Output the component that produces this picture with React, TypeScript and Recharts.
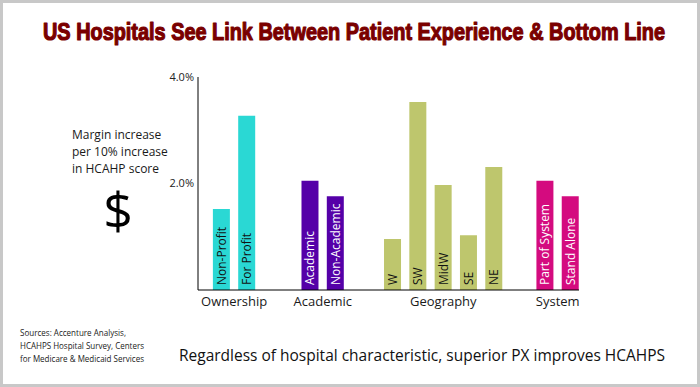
import React from 'react';
import { BarChart, Bar, XAxis, YAxis, Cell, LabelList } from 'recharts';

const groupNames = ['Ownership', 'Academic', 'Geography', 'System'];
const ownershipLabels = ['Non-Profit', 'For Profit'];
const ownershipValues = [1.52, 3.27];
const academicLabels = ['Academic', 'Non-Academic'];
const academicValues = [2.05, 1.76];
const geographyLabels = ['W', 'SW', 'MidW', 'SE', 'NE'];
const geographyValues = [0.96, 3.53, 1.97, 1.03, 2.31];
const systemLabels = ['Part of System', 'Stand Alone'];
const systemValues = [2.05, 1.76];
const yTicks = [2, 4];

const groupColors = ['#2ad8d4', '#5500a8', '#bec66d', '#d40b7f'];
const labelColors = ['#111111', '#ffffff', '#111111', '#ffffff'];
// extra room (in bar steps) in front of each group
const groupGaps = [0, 1.5, 1.26, 1.02];

const groups = [
  { labels: ownershipLabels, values: ownershipValues },
  { labels: academicLabels, values: academicValues },
  { labels: geographyLabels, values: geographyValues },
  { labels: systemLabels, values: systemValues },
];

type Row = { name: string; value: number; pos: number; group: number };
const rows: Row[] = [];
const groupCenters: number[] = [];
let cursor = 0;
groups.forEach((g, gi) => {
  cursor += groupGaps[gi];
  const start = cursor;
  g.labels.forEach((name, i) => {
    rows.push({ name, value: g.values[i], pos: cursor, group: gi });
    cursor += 1;
  });
  groupCenters.push((start + cursor - 1) / 2);
});
const lastPos = rows[rows.length - 1].pos;

const BarText = (props: any) => {
  const { x, y, width, height, value } = props;
  const row = rows.find((r) => r.name === value);
  const cx = Number(x) + Number(width) / 2;
  const by = Number(y) + Number(height) - 5;
  return (
    <text
      x={cx}
      y={by}
      transform={`rotate(-90 ${cx} ${by})`}
      textAnchor="start"
      dominantBaseline="central"
      fontSize={12}
      fill={row ? labelColors[row.group] : '#111'}
    >
      {value}
    </text>
  );
};

export default function App() {
  return (
    <div
      style={{
        position: 'absolute',
        left: 0,
        top: 0,
        width: 700,
        height: 387,
        background: '#fff',
        fontFamily: "'Open Sans', sans-serif",
      }}
    >
      <BarChart
        width={700}
        height={387}
        data={rows}
        margin={{ top: 77, right: 121, left: 158, bottom: 67 }}
      >
        <XAxis
          type="number"
          dataKey="pos"
          domain={[-0.93, lastPos + 0.34]}
          ticks={groupCenters}
          interval={0}
          tickFormatter={(v) => groupNames[groupCenters.indexOf(v)] ?? ''}
          tickLine={false}
          tickSize={0}
          tickMargin={7}
          height={30}
          axisLine={{ stroke: '#000' }}
          tick={{ fontSize: 13, fill: '#1a1a1a' }}
        />
        <YAxis
          type="number"
          domain={[0, 4]}
          ticks={yTicks}
          tickFormatter={(v) => `${Number(v).toFixed(1)}%`}
          tickLine={false}
          tickSize={0}
          tickMargin={4}
          width={40}
          axisLine={{ stroke: '#000' }}
          tick={{ fontSize: 11, fill: '#222' }}
        />
        <Bar dataKey="value" barSize={17} isAnimationActive={false}>
          {rows.map((r, i) => (
            <Cell key={`cell-${i}`} fill={groupColors[r.group]} />
          ))}
          <LabelList dataKey="name" content={BarText} />
        </Bar>
      </BarChart>

      <svg
        width={700}
        height={387}
        style={{ position: 'absolute', left: 0, top: 0, pointerEvents: 'none' }}
      >
        <rect x={1.5} y={1.5} width={697} height={384} fill="none" stroke="#c8c8c8" strokeWidth={3} />
        <text
          x={43}
          y={40}
          fontFamily="'Liberation Sans Narrow', 'Liberation Sans', sans-serif"
          fontWeight="bold"
          fontSize={24}
          fill="#7a0000"
          stroke="#7a0000"
          strokeWidth={1.2}
          strokeLinejoin="round"
          textLength={622}
          lengthAdjust="spacingAndGlyphs"
        >
          US Hospitals See Link Between Patient Experience &amp; Bottom Line
        </text>
        <g fontSize={12} fill="#1a1a1a" fontFamily="'Open Sans', sans-serif">
          <text x={72} y={139}>Margin increase</text>
          <text x={72} y={156}>per 10% increase</text>
          <text x={72} y={173}>in HCAHP score</text>
        </g>
        <text
          x={118}
          y={229}
          textAnchor="middle"
          fontSize={52}
          fill="#000"
          fontFamily="'Open Sans', sans-serif"
        >
          $
        </text>
        <g fontSize={9} fill="#1a1a1a" fontFamily="'Open Sans', sans-serif">
          <text x={20} y={336} textLength={106} lengthAdjust="spacingAndGlyphs">
            Sources: Accenture Analysis,
          </text>
          <text x={20} y={349} textLength={124} lengthAdjust="spacingAndGlyphs">
            HCAHPS Hospital Survey, Centers
          </text>
          <text x={20} y={362} textLength={124} lengthAdjust="spacingAndGlyphs">
            for Medicare &amp; Medicaid Services
          </text>
        </g>
        <text
          x={179}
          y={361}
          fontSize={17}
          fill="#111"
          fontFamily="'Open Sans', sans-serif"
          textLength={486}
          lengthAdjust="spacingAndGlyphs"
        >
          Regardless of hospital characteristic, superior PX improves HCAHPS
        </text>
      </svg>
    </div>
  );
}
